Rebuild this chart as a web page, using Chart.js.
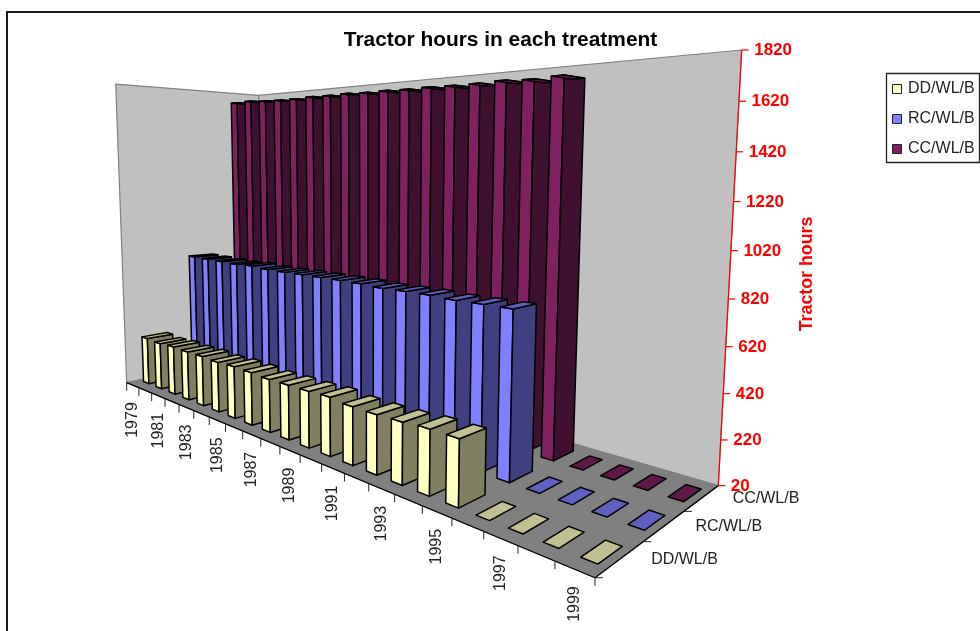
<!DOCTYPE html>
<html>
<head>
<meta charset="utf-8">
<style>html,body{margin:0;padding:0;background:#fff}canvas{display:block}</style>
<script src="https://cdn.jsdelivr.net/npm/chart.js@4"></script>
</head>
<body>
<canvas id="c" width="980" height="631"></canvas>
<script>
const years = ['1979','1980','1981','1982','1983','1984','1985','1986','1987','1988','1989','1990','1991','1992','1993','1994','1995','1996','1997','1998','1999'];
const seriesNames = ['DD/WL/B','RC/WL/B','CC/WL/B'];
const ddValues = [301,295,301,298,300,295,300,298,293,295,297,302,292,291,295,303,303,0,0,0,0];
const rcValues = [771,770,769,767,772,767,767,770,771,772,772,767,770,771,767,769,770,0,0,0,0];
const ccValues = [1750,1753,1748,1744,1744,1748,1747,1750,1746,1748,1745,1747,1745,1745,1749,1744,1749,0,0,0,0];
const lightColors = ['#FFFFC0','#8080FF','#802060'];
const darkColors = ['#808060','#404080','#401030'];
const topColors = ['#C0C090','#6060C0','#601848'];

// camera: homogeneous image of the (across, deep, up) unit box
const O = [126.7,382.7,1], EX = [191.6,-73.6,-0.465], EZ = [176.6,25.5,0.154], EY = [-16,-302.3,-0.0433];
const BAR_X = 0.43, BAR_Z = 0.5, BAR_SHIFT = 0.04;
const FONT = 'Liberation Sans, Arial, sans-serif';

function project(u,v,h){
  const p=[0,1,2].map(k=>O[k]+u*EX[k]+v*EZ[k]+h*EY[k]);
  return [p[0]/p[2],p[1]/p[2]];
}
function poly(ctx,pts,fill,stroke,lw){
  ctx.beginPath();
  pts.forEach((p,i)=>i?ctx.lineTo(p[0],p[1]):ctx.moveTo(p[0],p[1]));
  ctx.closePath();
  if(fill){ctx.fillStyle=fill;ctx.fill();}
  if(stroke){ctx.strokeStyle=stroke;ctx.lineWidth=lw||1;ctx.stroke();}
}
function line(ctx,a,b,color,lw){
  ctx.beginPath();ctx.moveTo(a[0],a[1]);ctx.lineTo(b[0],b[1]);
  ctx.strokeStyle=color;ctx.lineWidth=lw||1;ctx.stroke();
}
const dec=(s,val)=>s.getDecimalForPixel(s.getPixelForValue(val));

const box3d={
  id:'box3d',
  beforeDraw(chart){
    const ctx=chart.ctx;
    ctx.save();
    ctx.fillStyle='#fff';ctx.fillRect(0,0,chart.width,chart.height);
    ctx.strokeStyle='#1a1a1a';ctx.lineWidth=2;
    ctx.beginPath();ctx.moveTo(7,631);ctx.lineTo(7,12);ctx.lineTo(980,12);ctx.stroke();
    ctx.restore();
  },
  beforeDatasetsDraw(chart){
    const ctx=chart.ctx,xS=chart.scales.x,yS=chart.scales.y,zS=chart.scales.z;
    ctx.save();
    ctx.lineJoin='round';
    // walls and floor
    const L=project(0,0,0),F=project(1,0,0),R=project(1,1,0),B=project(0,1,0);
    const Lt=project(0,0,1),Rt=project(1,1,1),Bt=project(0,1,1);
    poly(ctx,[L,B,Bt,Lt],'#C0C0C0','#808080',1.2);
    poly(ctx,[B,R,Rt,Bt],'#C0C0C0','#808080',1.2);
    poly(ctx,[L,F,R,B],'#808080','#808080',1);
    // marks, far to near
    const base=yS.min;
    const nCat=years.length,nSer=chart.data.datasets.length;
    for(let s=nSer-1;s>=0;s--){
      const vals=chart.data.datasets[s].data;
      const vc=dec(zS,s),hz=BAR_Z/nSer/2;
      for(let i=0;i<nCat;i++){
        const uc=dec(xS,i)+BAR_SHIFT/nCat,hx=BAR_X/nCat/2;
        const h=dec(yS,Math.max(vals[i],base));
        const u0=uc-hx,u1=uc+hx,v0=vc-hz,v1=vc+hz;
        const a=project(u0,v0,0),b=project(u1,v0,0),c=project(u1,v1,0);
        const at=project(u0,v0,h),bt=project(u1,v0,h),ct=project(u1,v1,h),dt=project(u0,v1,h);
        if(h>0){
          poly(ctx,[a,b,bt,at],lightColors[s],'#000',1.5);
          poly(ctx,[b,c,ct,bt],darkColors[s],'#000',1.5);
        }
        poly(ctx,[at,bt,ct,dt],topColors[s],'#000',1.5);
      }
    }
    // axes
    line(ctx,L,F,'#000',1.3);line(ctx,F,R,'#000',1.3);
    for(let i=0;i<=nCat;i++){const p=project(i/nCat,0,0);line(ctx,p,[p[0],p[1]+8],'#222',1);}
    for(let s=0;s<=nSer;s++){const p=project(1,s/nSer,0);if(s<nSer)line(ctx,p,[p[0]+8,p[1]],'#222',1);}
    ctx.fillStyle='#222';ctx.font='16px '+FONT;
    years.forEach((lab,i)=>{
      if(i%2)return;
      const p=project(dec(xS,i),0,0);
      ctx.save();ctx.translate(p[0],p[1]+17);ctx.rotate(-Math.PI/2);
      ctx.textAlign='right';ctx.textBaseline='middle';ctx.fillText(lab,0,0);ctx.restore();
    });
    ctx.textAlign='left';ctx.textBaseline='middle';
    seriesNames.forEach((lab,s)=>{
      const p=project(1,dec(zS,s),0);
      ctx.fillText(lab,p[0]+31,p[1]+0.5);
    });
    // value axis
    line(ctx,R,Rt,'#FF0000',1.2);
    ctx.font='bold 17px '+FONT;
    yS.ticks.forEach(t=>{
      const p=project(1,1,dec(yS,t.value));
      line(ctx,p,[p[0]+7,p[1]],'#FF0000',1.2);
      ctx.fillStyle='#FF0000';
      ctx.fillText(String(t.value),p[0]+12.5,p[1]+0.5);
    });
    ctx.save();ctx.translate(807,274);ctx.rotate(-Math.PI/2);
    ctx.textAlign='center';ctx.font='bold 17.8px '+FONT;
    ctx.fillText(yS.options.title.text,0,0);ctx.restore();
    // legend
    poly(ctx,[[886.5,73.5],[979.5,73.5],[979.5,162.5],[886.5,162.5]],'#fff','#222',1.3);
    ctx.font='16px '+FONT;
    chart.data.datasets.forEach((ds,s)=>{
      const y=89+30*s;
      ctx.fillStyle=lightColors[s];ctx.fillRect(892.5,y-4.5,9,9);
      ctx.strokeStyle='#222';ctx.lineWidth=1;ctx.strokeRect(892.5,y-4.5,9,9);
      ctx.fillStyle='#222';ctx.fillText(ds.label,908,y);
    });
    ctx.restore();
    return false;
  }
};

new Chart(document.getElementById('c'),{
  type:'bar',
  data:{labels:years,datasets:[
    {label:seriesNames[0],data:ddValues,backgroundColor:lightColors[0]},
    {label:seriesNames[1],data:rcValues,backgroundColor:lightColors[1]},
    {label:seriesNames[2],data:ccValues,backgroundColor:lightColors[2]}
  ]},
  options:{
    responsive:false,animation:false,
    layout:{padding:{left:21}},
    plugins:{
      legend:{display:false},tooltip:{enabled:false},
      title:{display:true,text:'Tractor hours in each treatment',color:'#000',
        font:{family:FONT,size:20.9,weight:'bold'},padding:{top:28,bottom:0}}
    },
    scales:{
      x:{display:false,offset:true},
      z:{type:'category',axis:'x',labels:seriesNames,display:false,offset:true},
      y:{display:false,min:20,max:1820,ticks:{stepSize:200},title:{text:'Tractor hours'}}
    }
  },
  plugins:[box3d]
});
</script>
</body>
</html>
